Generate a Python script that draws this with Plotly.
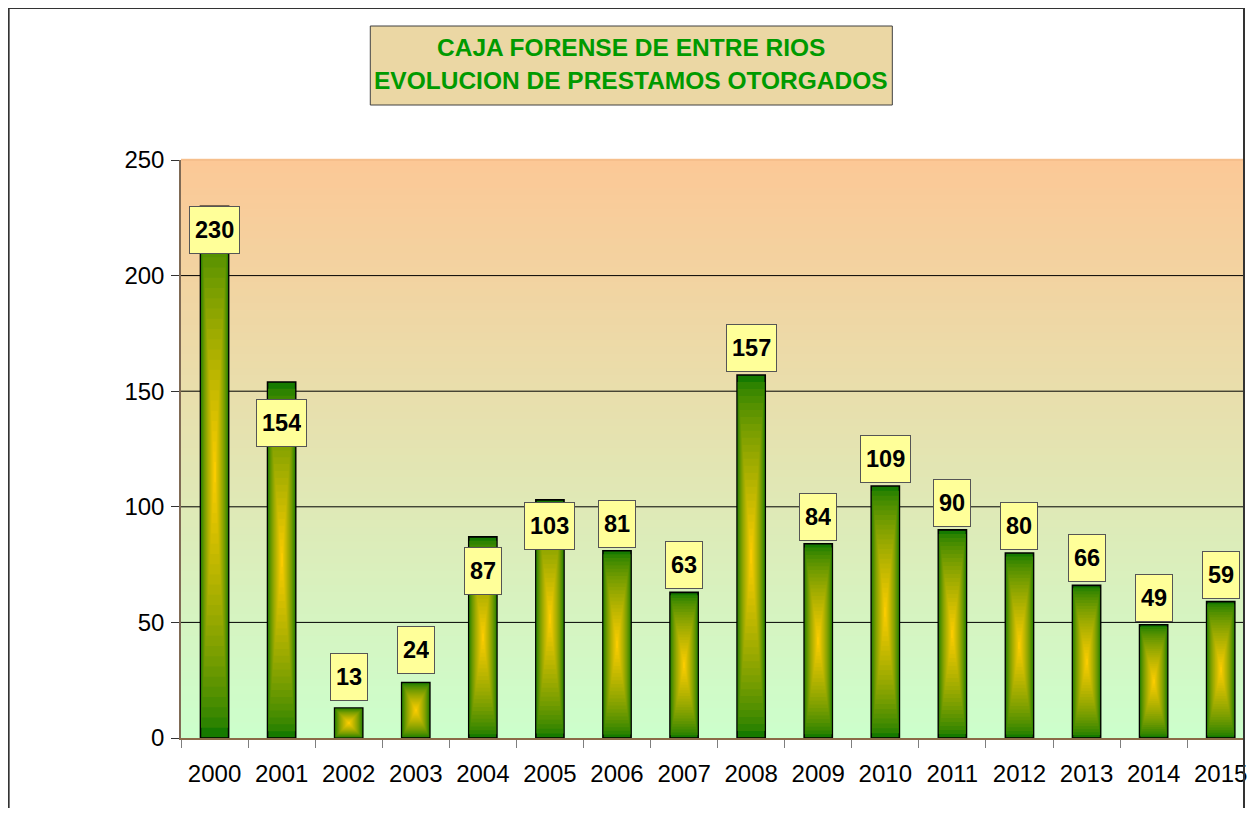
import plotly.graph_objects as go

# ---- data ----
years = ["2000", "2001", "2002", "2003", "2004", "2005", "2006", "2007",
         "2008", "2009", "2010", "2011", "2012", "2013", "2014", "2015"]
prestamos = [230, 154, 13, 24, 87, 103, 81, 63, 157, 84, 109, 90, 80, 66, 49, 59]
y_ticks = [0, 50, 100, 150, 200, 250]
grid_vals = [50, 100, 150, 200]
title_lines = ["CAJA FORENSE DE ENTRE RIOS", "EVOLUCION DE PRESTAMOS OTORGADOS"]

# ---- style ----
label_shift = [-24, -41, 31, 33, -34, -26, 27, 27, 27, 27, 27, 27, 27, 27, 27, 27]
FONT = "Liberation Sans, Arial, sans-serif"
OFF = 8  # page body margin
W, H = 1241, 800
L, R, T = 181 - OFF, 2, 160 - OFF
B = H - (738 - OFF)
PW, PH = W - L - R, H - T - B
SLOT = 67.33  # px per category
x_end = PW / SLOT - 0.5

def px_x(p):  # page pixel -> paper coord
    return (p - OFF - L) / PW

def px_y(p):
    return (H - B - (p - OFF)) / PH

def lerp(c1, c2, t):
    return "rgb(%d,%d,%d)" % tuple(round(a + (b - a) * t) for a, b in zip(c1, c2))

edge_green = (22, 122, 0)
center_yellow = (255, 206, 0)
bg_top = (252, 200, 150)
bg_bot = (204, 255, 204)

bar_w = 0.42
N = 26
fig = go.Figure()
xi = list(range(len(years)))
for k in range(N):
    t = k / N
    fig.add_trace(go.Bar(
        x=years,
        y=[v * (1 - t) for v in prestamos],
        base=[v * t / 2 for v in prestamos],
        width=bar_w * (1 - t),
        marker=dict(color=lerp(edge_green, center_yellow, t ** 0.7),
                    line=dict(color="black", width=1.6 if k == 0 else 0)),
        hoverinfo="skip",
        showlegend=False,
    ))

shapes = []
NB = 80
for i in range(NB):
    shapes.append(dict(type="rect", xref="x domain", yref="y domain",
                       x0=0, x1=1, y0=1 - (i + 1) / NB, y1=1 - i / NB + 0.002,
                       fillcolor=lerp(bg_top, bg_bot, (i + 0.5) / NB),
                       line=dict(width=0), layer="below"))
for g in grid_vals:
    shapes.append(dict(type="line", xref="x domain", yref="y", x0=0, x1=1,
                       y0=g, y1=g, line=dict(color="black", width=1), layer="below"))
shapes.append(dict(type="line", xref="x domain", yref="y domain", x0=0, x1=1,
                   y0=1, y1=1, line=dict(color="#F4BC88", width=1.5), layer="below"))
# chart border
shapes.append(dict(type="rect", xref="paper", yref="paper",
                   x0=px_x(8), x1=px_x(1248), y0=px_y(840), y1=px_y(8),
                   line=dict(color="#333333", width=2), layer="above"))
# title box
shapes.append(dict(type="rect", xref="paper", yref="paper",
                   x0=px_x(371), x1=px_x(895), y0=px_y(105), y1=px_y(26),
                   fillcolor="#EBD7A4", line=dict(color="#404040", width=1), layer="above"))

annotations = []
for i, v, s in zip(xi, prestamos, label_shift):
    annotations.append(dict(
        x=i, y=v, xref="x", yref="y", yshift=s,
        text="<b>%d</b>" % v, showarrow=False,
        font=dict(family=FONT, size=23.5, color="black"),
        bgcolor="#FFFF99", bordercolor="#555555", borderwidth=1,
        borderpad=5, height=36, valign="middle",
    ))
for line, yc in zip(title_lines, [47.5, 80.5]):
    annotations.append(dict(
        x=px_x(633), y=px_y(yc), xref="paper", yref="paper",
        text="<b>%s</b>" % line, showarrow=False,
        xanchor="center", yanchor="middle",
        font=dict(family=FONT, size=24.5, color="#009A00"),
    ))

fig.update_layout(
    width=W, height=H,
    margin=dict(l=L, r=R, t=T, b=B),
    paper_bgcolor="white", plot_bgcolor="white",
    barmode="overlay",
    shapes=shapes, annotations=annotations,
    font=dict(family=FONT, color="black"),
    xaxis=dict(type="category", range=[-0.5, x_end], tickson="boundaries",
               ticks="outside", ticklen=8, tickcolor="#7F7F7F", tickwidth=1,
               showline=True, linecolor="#8B6A48", linewidth=1.5,
               showgrid=False, tickfont=dict(size=24, color="black"),
               ticklabelstandoff=13),
    yaxis=dict(range=[0, 250], tickvals=y_ticks, ticks="outside", ticklen=8,
               tickcolor="#333333", showline=True, linecolor="#7F6A55",
               linewidth=1.5, showgrid=False, zeroline=False,
               tickfont=dict(size=24, color="black"), ticklabelstandoff=2),
)

fig.write_html("out.html")
